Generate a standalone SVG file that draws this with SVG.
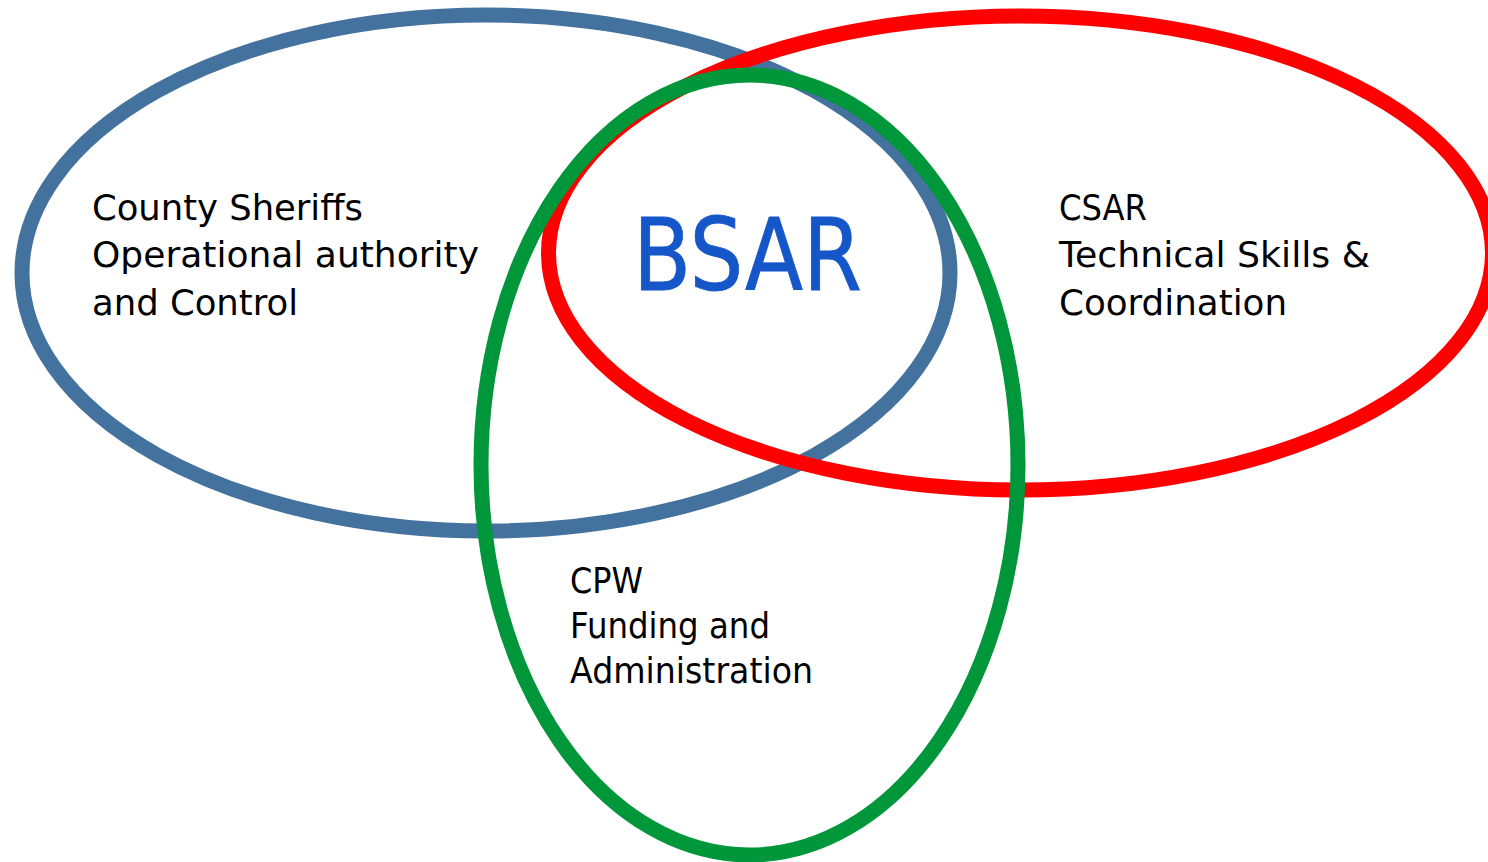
<svg xmlns="http://www.w3.org/2000/svg" width="1488" height="862" viewBox="0 0 1488 862">
<style>
.ring{fill:none;stroke-width:15}
.lbl{font-family:"DejaVu Sans","Liberation Sans",sans-serif;font-size:35px;fill:#000}
.big{font-family:"DejaVu Sans Condensed","DejaVu Sans","Liberation Sans",sans-serif;font-size:99px;fill:#1556C9;stroke:#1556C9;stroke-width:0.8}
</style>
<rect width="1488" height="862" fill="#fff"/>
<g id="sheriffs">
<ellipse class="ring" cx="486" cy="273" rx="464" ry="258" stroke="#44729E"/>
<text class="lbl" x="92" y="220" textLength="271" lengthAdjust="spacingAndGlyphs">County Sheriffs</text>
<text class="lbl" x="92" y="267" textLength="387" lengthAdjust="spacingAndGlyphs">Operational authority</text>
<text class="lbl" x="92" y="315" textLength="206" lengthAdjust="spacingAndGlyphs">and Control</text>
</g>
<g id="csar">
<ellipse class="ring" cx="1020.5" cy="253" rx="472" ry="237" stroke="#FF0000"/>
<text class="lbl" x="1059" y="220" textLength="88" lengthAdjust="spacingAndGlyphs">CSAR</text>
<text class="lbl" x="1059" y="267" textLength="311" lengthAdjust="spacingAndGlyphs">Technical Skills &amp;</text>
<text class="lbl" x="1059" y="315" textLength="228" lengthAdjust="spacingAndGlyphs">Coordination</text>
</g>
<g id="cpw">
<ellipse class="ring" cx="749.5" cy="465" rx="268.5" ry="390" stroke="#00963A"/>
<text class="lbl" x="570" y="593" textLength="73" lengthAdjust="spacingAndGlyphs">CPW</text>
<text class="lbl" x="570" y="638" textLength="200" lengthAdjust="spacingAndGlyphs">Funding and</text>
<text class="lbl" x="570" y="683" textLength="243" lengthAdjust="spacingAndGlyphs">Administration</text>
</g>
<g id="bsar">
<text class="big" x="633" y="290" textLength="229" lengthAdjust="spacingAndGlyphs">BSAR</text>
</g>
<g id="connectors"></g>
</svg>
